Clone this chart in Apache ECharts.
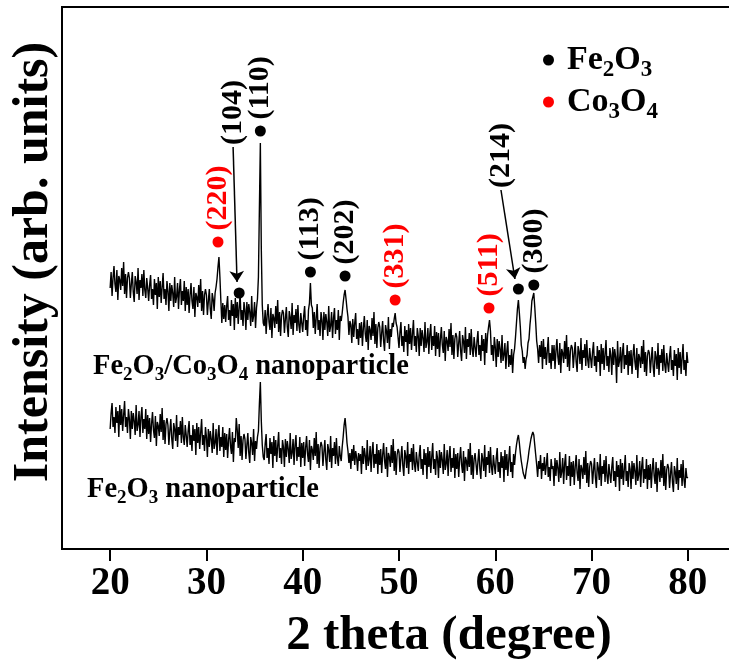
<!DOCTYPE html>
<html>
<head>
<meta charset="utf-8">
<script src="https://cdn.jsdelivr.net/npm/echarts@6/dist/echarts.min.js"></script>
<style>
  html, body { margin: 0; padding: 0; background: #fff; }
  #main { width: 729px; height: 663px; }
</style>
</head>
<body>
<div id="main"></div>
<script>
// scan grid: 20 to 80 degrees, one reading every 0.1 degree (one row = 2 degrees)
const thetaStart = 20;
const thetaStep = 0.1;

// Fe2O3/Co3O4 nanoparticle trace (arb. units)
const mixedIntensity = [
  261, 277, 253, 271, 283, 265, 257, 279, 249, 273, 269, 259, 281, 263, 287, 255, 275, 251, 271, 277,
  271, 251, 265, 277, 257, 247, 273, 267, 255, 281, 249, 269, 261, 275, 253, 279, 259, 251, 271, 261,
  248, 264, 274, 250, 260, 244, 270, 254, 266, 240, 272, 252, 268, 246, 262, 276, 250, 260, 244, 268,
  258, 238, 266, 248, 264, 256, 242, 272, 246, 252, 266, 240, 260, 270, 244, 258, 248, 268, 238, 262,
  244, 260, 236, 254, 266, 248, 240, 262, 232, 256, 252, 242, 264, 246, 270, 238, 258, 234, 254, 260,
  254, 234, 248, 260, 240, 230, 256, 250, 238, 256, 262, 270, 282, 292, 272, 248, 226, 246, 230, 244,
  227, 243, 253, 229, 239, 223, 249, 233, 245, 219, 251, 231, 247, 225, 241, 255, 229, 239, 223, 247,
  239, 219, 247, 229, 245, 237, 223, 253, 227, 233, 247, 221, 241, 250, 272, 340, 406, 300, 244, 226,
  223, 239, 215, 233, 245, 227, 219, 241, 211, 235, 231, 221, 243, 225, 249, 217, 237, 213, 233, 239,
  236, 216, 230, 242, 222, 212, 238, 232, 220, 246, 214, 234, 226, 240, 218, 244, 224, 216, 236, 226,
  217, 233, 243, 219, 229, 213, 239, 246, 266, 244, 241, 221, 237, 215, 231, 245, 219, 229, 213, 237,
  229, 209, 237, 219, 235, 227, 213, 243, 217, 223, 237, 211, 231, 241, 215, 229, 219, 239, 209, 233,
  228, 236, 246, 254, 259, 250, 240, 232, 214, 228, 224, 206, 230, 212, 226, 236, 210, 220, 204, 226,
  211, 227, 203, 221, 233, 215, 207, 229, 199, 223, 219, 209, 231, 213, 237, 205, 225, 201, 221, 227,
  222, 202, 216, 228, 208, 198, 224, 218, 206, 232, 200, 220, 212, 226, 222, 230, 236, 226, 222, 212,
  201, 217, 227, 203, 213, 197, 223, 207, 219, 193, 225, 205, 221, 199, 215, 229, 203, 213, 197, 221,
  213, 193, 221, 203, 219, 211, 197, 227, 201, 207, 221, 195, 215, 225, 199, 213, 203, 223, 193, 217,
  200, 216, 192, 210, 222, 204, 196, 218, 188, 212, 208, 198, 220, 202, 226, 194, 214, 190, 210, 216,
  212, 192, 206, 218, 198, 188, 214, 208, 196, 222, 190, 210, 202, 216, 194, 220, 200, 192, 212, 202,
  192, 208, 218, 194, 204, 188, 214, 198, 210, 184, 216, 196, 214, 222, 229, 218, 194, 204, 188, 212,
  202, 182, 210, 192, 208, 200, 186, 214, 188, 194, 206, 180, 198, 208, 182, 194, 184, 200, 176, 194,
  200, 212, 226, 240, 249, 236, 222, 204, 198, 186, 192, 180, 190, 194, 206, 210, 224, 234, 248, 252,
  256, 242, 226, 208, 200, 186, 204, 192, 208, 180, 210, 190, 202, 184, 198, 212, 186, 196, 180, 204,
  188, 204, 180, 198, 210, 192, 184, 206, 176, 200, 196, 186, 208, 190, 214, 182, 202, 178, 198, 204,
  201, 181, 195, 207, 187, 177, 203, 197, 185, 211, 179, 199, 191, 205, 183, 209, 189, 181, 201, 191,
  181, 197, 207, 183, 193, 177, 203, 187, 199, 173, 205, 185, 201, 179, 195, 209, 183, 193, 177, 201,
  194, 174, 202, 184, 200, 192, 166, 208, 182, 188, 202, 176, 196, 206, 180, 194, 184, 204, 174, 198,
  183, 199, 175, 193, 205, 187, 179, 201, 171, 195, 191, 181, 203, 185, 209, 177, 197, 173, 193, 199,
  196, 176, 190, 202, 182, 172, 198, 192, 180, 206, 174, 194, 186, 200, 178, 204, 184, 176, 196, 186,
  177, 193, 203, 179, 189, 173, 199, 183, 195, 169, 201, 181, 197, 175, 191, 205, 179, 189, 173, 197,
  186
];

// Fe2O3 nanoparticle trace (arb. units)
const pureIntensity = [
  120, 136, 146, 122, 132, 116, 142, 126, 138, 112, 144, 124, 140, 118, 134, 148, 122, 132, 116, 140,
  130, 110, 138, 120, 136, 128, 114, 144, 118, 124, 138, 112, 132, 142, 116, 130, 120, 140, 110, 134,
  115, 131, 107, 125, 137, 119, 111, 133, 103, 127, 123, 113, 135, 117, 141, 109, 129, 105, 125, 131,
  124, 104, 118, 130, 110, 100, 126, 120, 108, 134, 102, 122, 114, 128, 106, 132, 112, 104, 124, 114,
  102, 118, 128, 104, 114, 98, 124, 108, 120, 94, 126, 106, 122, 100, 116, 130, 104, 114, 98, 122,
  112, 92, 120, 102, 118, 110, 96, 126, 100, 106, 120, 94, 114, 124, 98, 112, 102, 122, 92, 116,
  99, 115, 91, 109, 121, 103, 95, 117, 87, 111, 107, 131, 119, 101, 125, 93, 113, 89, 109, 115,
  110, 90, 104, 116, 96, 86, 112, 106, 94, 120, 88, 108, 100, 112, 118, 145, 167, 128, 104, 92,
  89, 105, 115, 91, 101, 85, 111, 95, 107, 81, 113, 93, 109, 87, 103, 117, 91, 101, 85, 109,
  102, 82, 110, 92, 108, 100, 86, 116, 90, 96, 110, 84, 104, 114, 88, 102, 92, 112, 82, 106,
  91, 107, 83, 101, 113, 95, 87, 109, 79, 103, 99, 89, 111, 93, 117, 85, 105, 81, 101, 107,
  103, 83, 97, 109, 89, 79, 105, 99, 87, 113, 81, 101, 93, 107, 85, 111, 91, 83, 103, 93,
  88, 102, 112, 124, 131, 120, 106, 98, 86, 96, 80, 100, 88, 104, 84, 98, 92, 78, 96, 88,
  95, 75, 103, 85, 101, 93, 79, 109, 83, 89, 103, 77, 97, 107, 81, 95, 85, 105, 75, 99,
  84, 100, 76, 94, 106, 88, 80, 102, 72, 96, 92, 82, 104, 86, 110, 78, 98, 74, 94, 100,
  97, 77, 91, 103, 83, 73, 99, 93, 81, 107, 75, 95, 87, 101, 79, 105, 85, 77, 97, 87,
  78, 94, 104, 80, 90, 74, 100, 84, 96, 70, 102, 82, 98, 76, 92, 106, 80, 90, 74, 98,
  91, 71, 99, 81, 97, 89, 75, 105, 79, 85, 99, 73, 93, 103, 77, 91, 81, 101, 71, 95,
  80, 96, 72, 90, 102, 84, 76, 98, 68, 92, 88, 78, 100, 82, 106, 74, 94, 70, 90, 96,
  94, 74, 88, 100, 80, 70, 96, 90, 78, 104, 72, 92, 84, 98, 76, 102, 82, 74, 94, 84,
  75, 91, 101, 77, 87, 71, 97, 81, 93, 67, 99, 79, 95, 73, 89, 103, 77, 87, 71, 95,
  84, 96, 104, 110, 114, 106, 96, 88, 82, 76, 74, 70, 78, 84, 90, 98, 104, 110, 114, 117,
  114, 104, 94, 84, 72, 88, 80, 94, 70, 86, 78, 92, 74, 84, 96, 72, 82, 68, 90, 80,
  83, 63, 91, 73, 89, 81, 67, 97, 71, 77, 91, 65, 85, 95, 69, 83, 73, 93, 63, 87,
  72, 88, 64, 82, 94, 76, 68, 90, 60, 84, 80, 70, 92, 74, 98, 66, 86, 62, 82, 88,
  85, 65, 79, 91, 71, 61, 87, 81, 69, 95, 63, 83, 75, 89, 67, 93, 73, 65, 85, 75,
  66, 82, 92, 68, 78, 62, 88, 72, 84, 58, 90, 70, 86, 64, 80, 94, 68, 78, 62, 86,
  80, 60, 88, 70, 86, 78, 64, 94, 68, 74, 88, 62, 82, 92, 66, 80, 70, 90, 60, 84,
  69, 85, 61, 79, 91, 73, 65, 87, 57, 81, 77, 67, 89, 71, 95, 63, 83, 59, 79, 85,
  81, 61, 75, 87, 67, 57, 83, 77, 65, 91, 59, 79, 71, 85, 63, 89, 69, 61, 81, 71,
  72
];

const xTicks = [20, 30, 40, 50, 60, 70, 80];

// Fe2O3 reflections
const feLabels = ['(104)', '(110)', '(113)', '(202)', '(214)', '(300)'];
const feTheta = [33.4, 35.6, 40.8, 44.4, 62.4, 64.0];
const feHeight = [256, 418, 277, 273, 260, 264];

// Co3O4 reflections
const coLabels = ['(220)', '(331)', '(511)'];
const coTheta = [31.2, 49.6, 59.35];
const coHeight = [307, 249, 241];

// arrows for the crowded labels
const arrowLabels = ['(104)', '(214)'];
const arrowFrom = [[32.77, 402], [60.59, 359]];
const arrowTo = [[33.18, 267], [62.04, 270]];

const FONT = 'Liberation Serif';

function trace(values) {
  return values.map((v, i) => [+(thetaStart + i * thetaStep).toFixed(1), v]);
}

function peakLabel(color) {
  return {
    show: true,
    position: 'top',
    distance: 6,
    rotate: 90,
    align: 'left',
    verticalAlign: 'middle',
    fontFamily: FONT,
    fontWeight: 'bold',
    fontSize: 30,
    color: color,
    opacity: 1
  };
}

const richBig = { fontFamily: FONT, fontWeight: 'bold', fontSize: 28.5, lineHeight: 36, fill: '#000', color: '#000' };
const richSub = { fontFamily: FONT, fontWeight: 'bold', fontSize: 19, lineHeight: 19, verticalAlign: 'bottom', fill: '#000', color: '#000' };

const chart = echarts.init(document.getElementById('main'));
chart.setOption({
  animation: false,
  grid: {
    left: 62, top: 7, width: 674, bottom: 114,
    outerBoundsMode: 'none',
    show: true, borderColor: '#000', borderWidth: 2
  },
  xAxis: {
    type: 'value',
    min: 15,
    max: 85,
    axisLine: { lineStyle: { color: '#000', width: 2 } },
    axisTick: { customValues: xTicks, length: 12, lineStyle: { color: '#000', width: 2 } },
    axisLabel: { customValues: xTicks, margin: 15, fontFamily: FONT, fontWeight: 'bold', fontSize: 39, color: '#000' },
    splitLine: { show: false },
    name: '2 theta (degree)',
    nameLocation: 'middle',
    nameGap: 63,
    nameTextStyle: { fontFamily: FONT, fontWeight: 'bold', fontSize: 49, color: '#000', padding: [0, 0, 0, 100] }
  },
  yAxis: {
    type: 'value',
    min: 0,
    max: 542,
    axisLine: { show: true, lineStyle: { color: '#000', width: 2 } },
    axisTick: { show: false },
    axisLabel: { show: false },
    splitLine: { show: false },
    name: 'Intensity (arb. units)',
    nameLocation: 'middle',
    nameGap: 3,
    nameTextStyle: { fontFamily: FONT, fontWeight: 'bold', fontSize: 50, color: '#000', padding: [0, 0, 0, 32] }
  },
  legend: {
    data: ['Fe2O3', 'Co3O4'],
    orient: 'vertical',
    left: 538,
    top: 38,
    itemGap: 3,
    itemWidth: 11,
    itemHeight: 11,
    icon: 'circle',
    selectedMode: false,
    formatter: function (name) {
      return name === 'Fe2O3' ? '{n|Fe}{s|2}{n|O}{s|3}' : '{n|Co}{s|3}{n|O}{s|4}';
    },
    textStyle: {
      padding: [0, 0, 0, 8],
      rich: {
        n: { fontFamily: FONT, fontWeight: 'bold', fontSize: 34, lineHeight: 44, color: '#000' },
        s: { fontFamily: FONT, fontWeight: 'bold', fontSize: 23, lineHeight: 23, verticalAlign: 'bottom', color: '#000' }
      }
    }
  },
  graphic: [
    {
      type: 'text', left: 93, top: 352, silent: true,
      style: { text: '{n|Fe}{s|2}{n|O}{s|3}{n|/Co}{s|3}{n|O}{s|4}{n| nanoparticle}', fill: '#000', rich: { n: richBig, s: richSub } }
    },
    {
      type: 'text', left: 87, top: 475, silent: true,
      style: { text: '{n|Fe}{s|2}{n|O}{s|3}{n| nanoparticle}', fill: '#000', rich: { n: richBig, s: richSub } }
    }
  ],
  series: [
    {
      name: 'Fe2O3/Co3O4 nanoparticle',
      type: 'line',
      data: trace(mixedIntensity),
      symbol: 'none',
      silent: true,
      lineStyle: { color: '#000', width: 1.4, join: 'bevel' }
    },
    {
      name: 'Fe2O3 nanoparticle',
      type: 'line',
      data: trace(pureIntensity),
      symbol: 'none',
      silent: true,
      lineStyle: { color: '#000', width: 1.4, join: 'bevel' }
    },
    {
      name: 'Fe2O3',
      type: 'scatter',
      symbolSize: 11,
      itemStyle: { color: '#000', opacity: 1 },
      data: feTheta.map((t, i) => ({
        value: [t, feHeight[i]],
        label: { show: arrowLabels.indexOf(feLabels[i]) < 0 }
      })),
      label: Object.assign(peakLabel('#000'), { formatter: p => feLabels[p.dataIndex] }),
      markLine: {
        silent: true,
        symbol: ['none', 'arrow'],
        symbolSize: 11,
        label: { show: false },
        lineStyle: { color: '#000', width: 1.5, type: 'solid', opacity: 1 },
        data: arrowFrom.map((p, i) => [{ coord: p }, { coord: arrowTo[i] }])
      }
    },
    {
      name: 'Co3O4',
      type: 'scatter',
      symbolSize: 11,
      itemStyle: { color: '#ff0000', opacity: 1 },
      data: coTheta.map((t, i) => [t, coHeight[i]]),
      label: Object.assign(peakLabel('#ff0000'), { formatter: p => coLabels[p.dataIndex] })
    },
    {
      name: 'arrow labels',
      type: 'scatter',
      symbolSize: 0,
      data: arrowFrom,
      label: Object.assign(peakLabel('#000'), { distance: 2, formatter: p => arrowLabels[p.dataIndex] })
    }
  ]
});
</script>
</body>
</html>
